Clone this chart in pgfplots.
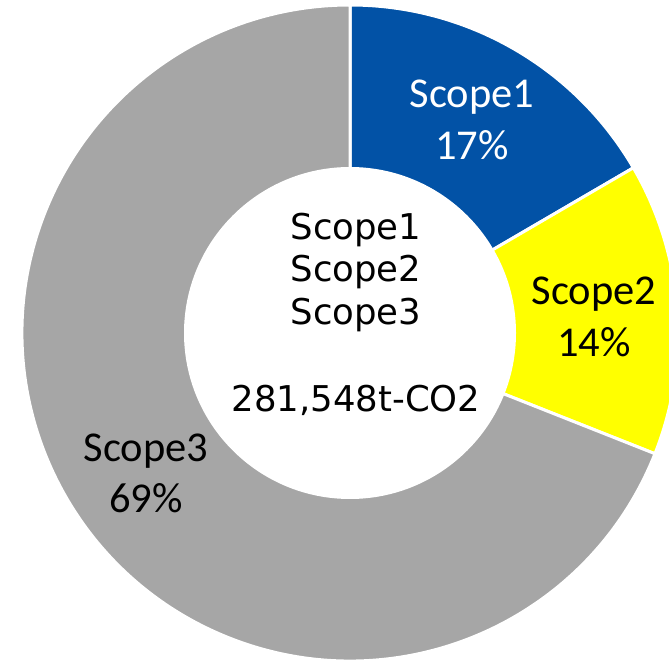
\documentclass[border=0pt]{standalone}
\usepackage{pgfplots}
\pgfplotsset{compat=1.18}
\usepackage{pgfplotstable}
\usepackage{fontspec}
\setmainfont{Carlito}
\newfontfamily\centerfont{DejaVu Sans}
\definecolor{s1}{RGB}{2,82,166}
\definecolor{s2}{RGB}{255,255,0}
\definecolor{s3}{RGB}{166,166,166}
% share of each scope (percent)
\pgfplotstableread{
label pct
Scope1 16.6
Scope2 14.4
Scope3 69.0
}\datatable
\pgfplotstablegetelem{0}{pct}\of\datatable \let\pa\pgfplotsretval
\pgfplotstablegetelem{1}{pct}\of\datatable \let\pb\pgfplotsretval
\pgfplotstablegetelem{2}{pct}\of\datatable \let\pc\pgfplotsretval
\pgfmathsetmacro\aA{90}
\pgfmathsetmacro\aB{90-3.6*\pa}
\pgfmathsetmacro\aC{\aB-3.6*\pb}
\pgfmathsetmacro\aD{\aC-3.6*\pc}
\def\cx{350}\def\cy{327}\def\Ro{328}\def\Ri{166}
\begin{document}
\begin{tikzpicture}
\useasboundingbox (0,0) rectangle (669pt,660pt);
\clip (0,0) rectangle (669pt,660pt);
\begin{axis}[hide axis, scale only axis, width=669pt, height=660pt,
  xmin=0, xmax=669, ymin=0, ymax=660, clip=false]
\fill[s1, draw=white, line width=3pt] (axis cs:\cx,\cy) -- ++(\aA:\Ro pt) arc[start angle=\aA, end angle=\aB, radius=\Ro pt] -- cycle;
\fill[s2, draw=white, line width=3pt] (axis cs:\cx,\cy) -- ++(\aB:\Ro pt) arc[start angle=\aB, end angle=\aC, radius=\Ro pt] -- cycle;
\fill[s3, draw=white, line width=3pt] (axis cs:\cx,\cy) -- ++(\aC:\Ro pt) arc[start angle=\aC, end angle=\aD, radius=\Ro pt] -- cycle;
\fill[white] (axis cs:\cx,\cy) circle[radius=\Ri pt];
% segment labels
\node[anchor=base, text=white, font=\fontsize{42.5}{50}\selectfont] at (axis cs:472,552) {Scope1};
\node[anchor=base, text=white, font=\fontsize{42.5}{50}\selectfont] at (axis cs:472,500) {17\%};
\node[anchor=base, font=\fontsize{42.5}{50}\selectfont] at (axis cs:594,355) {Scope2};
\node[anchor=base, font=\fontsize{42.5}{50}\selectfont] at (axis cs:594,303) {14\%};
\node[anchor=base, font=\fontsize{42.5}{50}\selectfont] at (axis cs:146,198) {Scope3};
\node[anchor=base, font=\fontsize{42.5}{50}\selectfont] at (axis cs:146,147) {69\%};
% centre text
\node[anchor=base, font=\centerfont\fontsize{35.5}{42}\selectfont] at (axis cs:356,420) {Scope1};
\node[anchor=base, font=\centerfont\fontsize{35.5}{42}\selectfont] at (axis cs:356,378) {Scope2};
\node[anchor=base, font=\centerfont\fontsize{35.5}{42}\selectfont] at (axis cs:356,335) {Scope3};
\node[anchor=base, font=\centerfont\fontsize{35.5}{42}\selectfont] at (axis cs:356,248) {281,548t-CO2};
\end{axis}
\end{tikzpicture}
\end{document}
